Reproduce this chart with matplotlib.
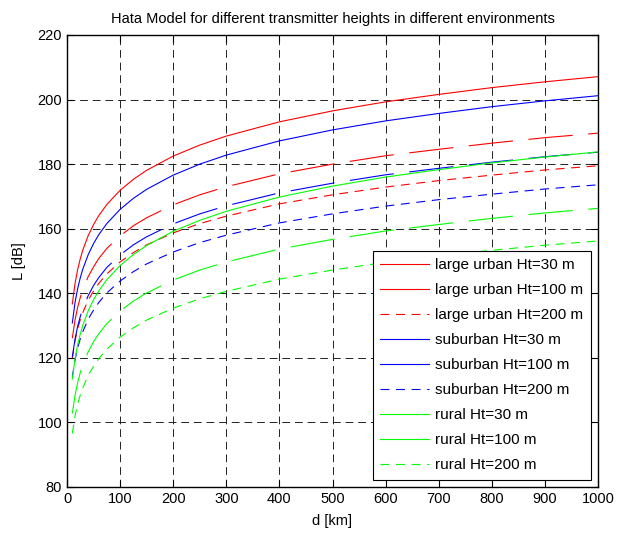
import matplotlib.pyplot as plt

plt.rcParams['font.family'] = ['Liberation Sans', 'DejaVu Sans']

# Distances (km) at which the curves were read
d = [10, 15, 20, 25, 30, 40, 50, 60, 75, 100, 125, 150, 200, 250, 300, 400, 500, 600, 700, 800, 900, 1000]

# Path loss (dB)
large_urban_30 = [136.7, 142.9, 147.3, 150.7, 153.5, 157.9, 161.3, 164.1, 167.5, 171.9, 175.3, 178.1, 182.5, 185.9,
                  188.7, 193.1, 196.5, 199.3, 201.6, 203.7, 205.5, 207.1]
large_urban_100 = [126.1, 131.6, 135.6, 138.7, 141.2, 145.2, 148.2, 150.8, 153.9, 157.8, 160.9, 163.4, 167.4, 170.5,
                   173.0, 177.0, 180.0, 182.6, 184.6, 186.5, 188.2, 189.6]
large_urban_200 = [119.9, 125.2, 128.9, 131.8, 134.1, 137.9, 140.7, 143.1, 146.0, 149.7, 152.6, 155.0, 158.7, 161.6,
                   163.9, 167.7, 170.5, 172.9, 174.9, 176.6, 178.2, 179.5]
suburban_30 = [130.8, 137.0, 141.4, 144.8, 147.6, 152.0, 155.4, 158.2, 161.6, 166.0, 169.4, 172.2, 176.6, 180.0,
               182.8, 187.2, 190.6, 193.4, 195.7, 197.8, 199.6, 201.2]
suburban_100 = [120.2, 125.7, 129.7, 132.8, 135.3, 139.3, 142.4, 144.9, 148.0, 151.9, 155.0, 157.5, 161.5, 164.6,
                167.1, 171.1, 174.1, 176.7, 178.7, 180.6, 182.3, 183.7]
suburban_200 = [114.0, 119.3, 123.0, 125.9, 128.2, 132.0, 134.8, 137.2, 140.1, 143.8, 146.7, 149.1, 152.8, 155.7,
                158.0, 161.8, 164.6, 167.0, 169.0, 170.7, 172.3, 173.6]
rural_30 = [113.4, 119.6, 124.0, 127.4, 130.2, 134.6, 138.0, 140.8, 144.2, 148.6, 152.0, 154.8, 159.2, 162.6,
            165.4, 169.8, 173.2, 176.0, 178.3, 180.4, 182.2, 183.8]
rural_100 = [102.8, 108.3, 112.3, 115.4, 118.0, 121.9, 125.0, 127.5, 130.6, 134.5, 137.6, 140.1, 144.1, 147.2,
             149.7, 153.7, 156.7, 159.3, 161.3, 163.2, 164.9, 166.3]
rural_200 = [96.6, 101.9, 105.6, 108.5, 110.8, 114.6, 117.4, 119.8, 122.7, 126.4, 129.3, 131.7, 135.4, 138.3,
             140.6, 144.4, 147.2, 149.6, 151.6, 153.3, 154.9, 156.2]

labels = ['large urban Ht=30 m', 'large urban Ht=100 m', 'large urban Ht=200 m',
          'suburban Ht=30 m', 'suburban Ht=100 m', 'suburban Ht=200 m',
          'rural Ht=30 m', 'rural Ht=100 m', 'rural Ht=200 m']

solid = '-'
long_dash = (0, (40, 14))
short_dash = (0, (8, 6))

fig = plt.figure(figsize=(6.18, 5.42), dpi=100)
ax = fig.add_axes([67 / 618, 1 - 487 / 542, 531 / 618, 452 / 542])

ax.plot(d, large_urban_30, color='#ff0000', lw=0.8, ls=solid, label=labels[0])
ax.plot(d, large_urban_100, color='#ff0000', lw=0.8, ls=long_dash, label=labels[1])
ax.plot(d, large_urban_200, color='#ff0000', lw=0.8, ls=short_dash, label=labels[2])
ax.plot(d, suburban_30, color='#0000ff', lw=0.8, ls=solid, label=labels[3])
ax.plot(d, suburban_100, color='#0000ff', lw=0.8, ls=long_dash, label=labels[4])
ax.plot(d, suburban_200, color='#0000ff', lw=0.8, ls=short_dash, label=labels[5])
ax.plot(d, rural_30, color='#00ff00', lw=0.8, ls=solid, label=labels[6])
ax.plot(d, rural_100, color='#00ff00', lw=0.8, ls=long_dash, label=labels[7])
ax.plot(d, rural_200, color='#00ff00', lw=0.8, ls=short_dash, label=labels[8])

ax.set_xlim(0, 1000)
ax.set_ylim(80, 220)
ax.set_xticks(range(0, 1001, 100))
ax.set_yticks(range(80, 221, 20))

# MATLAB-like grid and ticks
ax.grid(True, color='#222222', lw=0.7, ls=(0, (8, 5)))
ax.tick_params(direction='in', top=True, right=True, length=5, labelsize=10.5)
for s in ax.spines.values():
    s.set_linewidth(1.0)

ax.set_title('Hata Model for different transmitter heights in different environments', fontsize=10.5, pad=9)
ax.set_xlabel('d [km]', fontsize=10.5, labelpad=6)
ax.set_ylabel('L [dB]', fontsize=10.5, labelpad=8)

leg = ax.legend(loc='lower right', fontsize=11, handlelength=3.2, handletextpad=0.4,
                labelspacing=0.72, borderpad=0.5, borderaxespad=0.45,
                fancybox=False, edgecolor='black', framealpha=1)
leg.get_frame().set_linewidth(0.8)
# the long dashes are longer than the legend sample, so they show as solid there
for i, line in enumerate(leg.get_lines()):
    if i % 3 == 1:
        line.set_linestyle('-')

fig.savefig('out.png', dpi=100)
